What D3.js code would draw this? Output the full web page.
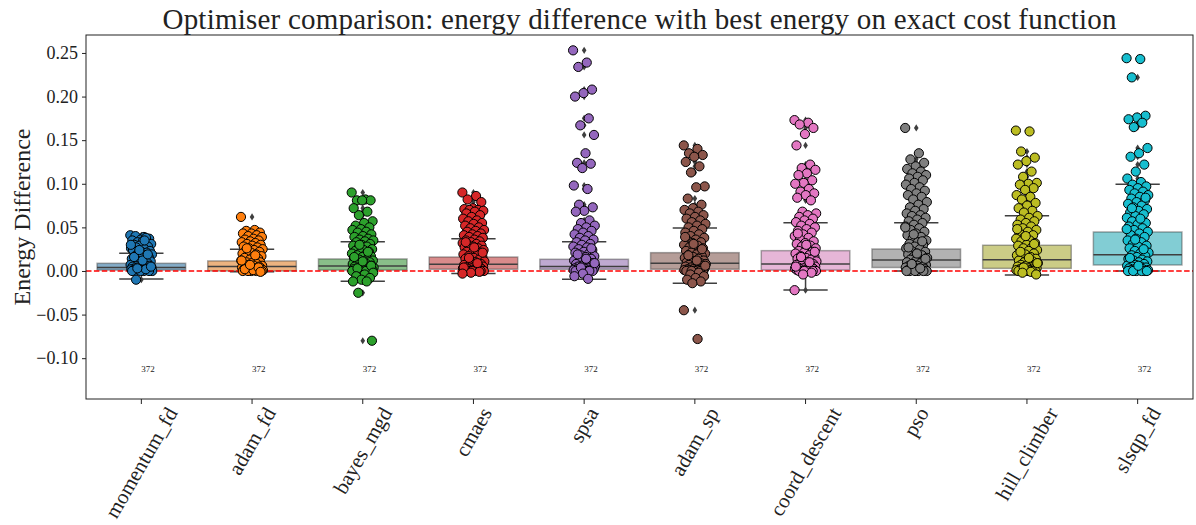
<!DOCTYPE html>
<html>
<head>
<meta charset="utf-8">
<script src="https://cdn.jsdelivr.net/npm/d3@7"></script>
<style>
  body { margin: 0; background: #fff; }
  text { font-family: "Liberation Serif", "DejaVu Serif", serif; fill: #222; }
</style>
</head>
<body>
<script>
var categories = ["momentum_fd", "adam_fd", "bayes_mgd", "cmaes", "spsa",
  "adam_sp", "coord_descent", "pso", "hill_climber", "slsqp_fd"];
var palette = ["#1f77b4", "#ff7f0e", "#2ca02c", "#d62728", "#9467bd",
  "#8c564b", "#e377c2", "#7f7f7f", "#bcbd22", "#17becf"];
var counts = [372, 372, 372, 372, 372, 372, 372, 372, 372, 372];

// box stats
var q1 =      [0.001, 0.000, 0.001, 0.002, 0.002, 0.002, 0.001, 0.004, 0.003, 0.0069];
var median =  [0.004, 0.005, 0.0057, 0.0077, 0.005, 0.0088, 0.008, 0.0126, 0.013, 0.0187];
var q3 =      [0.0088, 0.0115, 0.0138, 0.016, 0.0134, 0.021, 0.0233, 0.0252, 0.0295, 0.0447];
var whiskLo = [-0.0092, -0.001, -0.0118, -0.003, -0.0095, -0.0141, -0.0218, 0.0, -0.0046, 0.0];
var whiskHi = [0.0203, 0.0249, 0.0336, 0.037, 0.0336, 0.0493, 0.0554, 0.0554, 0.0634, 0.0994];

var yTicks = [-0.10, -0.05, 0.00, 0.05, 0.10, 0.15, 0.20, 0.25];

// strip points (visible values, estimated)
var ptsMomentum = [0.041,0.039,0.040,0.037,0.036,0.035,0.038,0.033,0.031,0.034,0.030,0.028,0.029,0.026,0.025,0.027,0.023,0.022,0.024,0.021,0.020,0.019,0.018,0.017,0.016,0.015,0.014,0.013,0.012,0.011,0.010,0.009,0.009,0.008,0.007,0.007,0.006,0.006,0.005,0.005,0.004,0.004,0.004,0.003,0.003,0.003,0.002,0.002,0.002,0.002,0.001,0.001,0.001,0.001,0.001,0.000,0.000,0.000,0.000,0.000,0.000,0.002,0.003,0.005,0.012,0.016,0.019,0.024,0.030,0.035,-0.010];
var ptsAdamFd = [0.062,0.047,0.046,0.044,0.043,0.043,0.041,0.040,0.039,0.037,0.036,0.035,0.034,0.033,0.032,0.031,0.030,0.029,0.028,0.027,0.026,0.025,0.024,0.023,0.022,0.021,0.020,0.019,0.018,0.017,0.016,0.015,0.014,0.013,0.012,0.011,0.010,0.010,0.009,0.008,0.008,0.007,0.006,0.006,0.005,0.005,0.004,0.004,0.003,0.003,0.003,0.002,0.002,0.002,0.001,0.001,0.001,0.001,0.000,0.000,0.000,0.000,0.000,0.000,0.001,0.002,0.004,0.007,0.012,0.018,0.026,-0.001];
var ptsBayes = [0.090,0.082,0.081,0.081,0.081,0.072,0.068,0.064,0.057,0.055,0.052,0.050,0.048,0.047,0.045,0.044,0.042,0.040,0.039,0.037,0.036,0.035,0.034,0.033,0.031,0.030,0.029,0.028,0.026,0.025,0.024,0.023,0.022,0.021,0.020,0.019,0.018,0.017,0.016,0.015,0.014,0.013,0.012,0.011,0.010,0.010,0.009,0.008,0.008,0.007,0.006,0.006,0.005,0.005,0.004,0.004,0.003,0.003,0.003,0.002,0.002,0.002,0.001,0.001,0.001,0.000,0.000,0.000,0.000,0.000,0.003,0.006,0.011,0.016,0.022,0.030,-0.002,-0.004,-0.006,-0.008,-0.010,-0.012,-0.012,-0.025,-0.080];
var ptsCmaes = [0.090,0.086,0.082,0.079,0.072,0.071,0.070,0.070,0.069,0.068,0.066,0.064,0.062,0.060,0.058,0.057,0.055,0.054,0.052,0.050,0.049,0.047,0.046,0.045,0.043,0.042,0.041,0.040,0.039,0.038,0.036,0.035,0.034,0.033,0.032,0.031,0.030,0.029,0.028,0.027,0.026,0.025,0.024,0.023,0.022,0.021,0.020,0.019,0.018,0.017,0.016,0.015,0.014,0.013,0.012,0.011,0.010,0.009,0.008,0.008,0.007,0.006,0.006,0.005,0.005,0.004,0.004,0.003,0.003,0.002,0.002,0.002,0.001,0.001,0.001,0.000,0.000,0.000,0.000,0.000,0.000,0.004,0.009,0.015,0.021,0.027,0.033,-0.001,-0.002,-0.003];
var ptsSpsa = [0.253,0.239,0.234,0.208,0.204,0.200,0.175,0.167,0.156,0.135,0.124,0.123,0.118,0.098,0.094,0.076,0.073,0.069,0.068,0.058,0.055,0.052,0.050,0.048,0.046,0.044,0.042,0.040,0.038,0.036,0.035,0.033,0.031,0.030,0.028,0.027,0.025,0.024,0.022,0.021,0.020,0.018,0.017,0.016,0.015,0.014,0.013,0.012,0.011,0.010,0.009,0.008,0.008,0.007,0.006,0.006,0.005,0.005,0.004,0.004,0.003,0.003,0.003,0.002,0.002,0.002,0.001,0.001,0.001,0.000,0.000,0.000,0.000,0.000,0.000,0.004,0.009,0.014,0.019,0.026,-0.003,-0.006,-0.009];
var ptsAdamSp = [0.144,0.140,0.135,0.133,0.131,0.125,0.120,0.113,0.097,0.096,0.083,0.076,0.072,0.070,0.068,0.066,0.064,0.062,0.060,0.058,0.056,0.054,0.052,0.050,0.048,0.046,0.044,0.042,0.040,0.038,0.036,0.035,0.033,0.032,0.030,0.029,0.027,0.026,0.024,0.023,0.022,0.021,0.020,0.019,0.018,0.017,0.016,0.015,0.014,0.013,0.012,0.011,0.010,0.009,0.009,0.008,0.007,0.007,0.006,0.005,0.005,0.004,0.004,0.003,0.003,0.002,0.002,0.002,0.001,0.001,0.001,0.000,0.000,0.000,0.000,0.000,0.006,0.012,0.018,0.025,0.031,0.039,-0.002,-0.004,-0.006,-0.008,-0.010,-0.012,-0.014,-0.045,-0.078];
var ptsCoord = [0.173,0.170,0.168,0.164,0.157,0.144,0.122,0.118,0.116,0.112,0.110,0.104,0.101,0.100,0.094,0.091,0.089,0.087,0.084,0.081,0.068,0.066,0.064,0.062,0.060,0.058,0.056,0.054,0.052,0.050,0.048,0.046,0.044,0.042,0.040,0.038,0.036,0.034,0.032,0.031,0.029,0.028,0.026,0.025,0.023,0.022,0.021,0.020,0.018,0.017,0.016,0.015,0.014,0.013,0.012,0.011,0.010,0.009,0.008,0.008,0.007,0.006,0.006,0.005,0.005,0.004,0.004,0.003,0.003,0.002,0.002,0.002,0.001,0.001,0.001,0.000,0.000,0.000,0.000,0.000,0.000,0.005,0.010,0.016,0.022,0.030,0.043,-0.002,-0.004,-0.022];
var ptsPso = [0.164,0.135,0.128,0.124,0.120,0.117,0.114,0.112,0.110,0.108,0.106,0.104,0.101,0.099,0.096,0.094,0.092,0.089,0.087,0.085,0.082,0.079,0.076,0.073,0.071,0.069,0.066,0.064,0.063,0.061,0.059,0.057,0.055,0.053,0.051,0.049,0.047,0.045,0.043,0.041,0.039,0.037,0.035,0.033,0.031,0.030,0.028,0.026,0.025,0.023,0.022,0.020,0.019,0.018,0.016,0.015,0.014,0.013,0.012,0.011,0.010,0.009,0.008,0.007,0.006,0.006,0.005,0.004,0.004,0.003,0.003,0.002,0.002,0.001,0.001,0.001,0.000,0.000,0.000,0.000,0.000,0.000,0.003,0.008,0.014,0.020,0.027,0.034,0.042,0.050];
var ptsHill = [0.161,0.160,0.137,0.130,0.126,0.122,0.114,0.108,0.101,0.100,0.099,0.095,0.093,0.087,0.085,0.082,0.078,0.075,0.072,0.069,0.067,0.063,0.061,0.059,0.057,0.055,0.053,0.051,0.049,0.047,0.045,0.043,0.041,0.039,0.037,0.035,0.034,0.032,0.030,0.029,0.027,0.026,0.024,0.023,0.021,0.020,0.019,0.018,0.016,0.015,0.014,0.013,0.012,0.011,0.010,0.009,0.008,0.007,0.006,0.006,0.005,0.004,0.004,0.003,0.003,0.002,0.002,0.001,0.001,0.001,0.000,0.000,0.000,0.000,0.000,0.004,0.009,0.015,0.022,0.031,0.040,0.048,-0.001,-0.002,-0.004];
var ptsSlsqp = [0.244,0.243,0.222,0.178,0.176,0.174,0.170,0.165,0.141,0.135,0.131,0.122,0.114,0.106,0.102,0.099,0.097,0.095,0.093,0.091,0.089,0.087,0.085,0.083,0.081,0.079,0.077,0.075,0.073,0.071,0.069,0.067,0.065,0.063,0.061,0.059,0.057,0.055,0.053,0.051,0.049,0.047,0.045,0.043,0.041,0.039,0.037,0.035,0.033,0.031,0.029,0.028,0.026,0.024,0.023,0.021,0.020,0.018,0.017,0.016,0.014,0.013,0.012,0.011,0.010,0.009,0.008,0.007,0.006,0.005,0.005,0.004,0.003,0.003,0.002,0.002,0.001,0.001,0.001,0.000,0.000,0.000,0.000,0.000,0.000,0.006,0.015,0.025,0.036,0.048,0.060,0.072,0.084];

var points = [ptsMomentum, ptsAdamFd, ptsBayes, ptsCmaes, ptsSpsa,
  ptsAdamSp, ptsCoord, ptsPso, ptsHill, ptsSlsqp];

var W = 1196, H = 525;
var m = {left: 86, right: 3, top: 35, bottom: 126};

var svg = d3.select("body").append("svg")
  .attr("width", W)
  .attr("height", H);

var x = d3.scaleBand()
  .domain(categories)
  .range([m.left, W - m.right])
  .paddingInner(0).paddingOuter(0);

var y = d3.scaleLinear()
  .domain([-0.1468, 0.2706])
  .range([H - m.bottom, m.top]);

var bw = x.bandwidth();
var boxW = bw * 0.8;
var capW = boxW * 0.5;
var jit = bw * 0.1;

function boxFill(c) {
  var h = d3.hsl(c);
  h.s = h.s * 0.75;
  return h.formatHex();
}

// boxes
var g = svg.append("g");
categories.forEach(function(cat, i) {
  var cx = x(cat) + bw / 2;
  var gb = g.append("g");
  gb.append("rect")
    .attr("x", cx - boxW / 2)
    .attr("y", y(q3[i]))
    .attr("width", boxW)
    .attr("height", y(q1[i]) - y(q3[i]))
    .attr("fill", boxFill(palette[i]))
    .attr("fill-opacity", 0.6)
    .attr("stroke", "#3f3f3f")
    .attr("stroke-opacity", 0.45)
    .attr("stroke-width", 1.5);
  // whiskers
  gb.append("line")
    .attr("x1", cx).attr("x2", cx)
    .attr("y1", y(q3[i])).attr("y2", y(whiskHi[i]))
    .attr("stroke", "#3f3f3f").attr("stroke-width", 1.5);
  gb.append("line")
    .attr("x1", cx).attr("x2", cx)
    .attr("y1", y(q1[i])).attr("y2", y(whiskLo[i]))
    .attr("stroke", "#3f3f3f").attr("stroke-width", 1.5);
  [whiskHi[i], whiskLo[i]].forEach(function(v) {
    gb.append("line")
      .attr("x1", cx - capW / 2).attr("x2", cx + capW / 2)
      .attr("y1", y(v)).attr("y2", y(v))
      .attr("stroke", "#3f3f3f").attr("stroke-width", 1.5);
  });
  gb.append("line")
    .attr("x1", cx - boxW / 2).attr("x2", cx + boxW / 2)
    .attr("y1", y(median[i])).attr("y2", y(median[i]))
    .attr("stroke", "#3f3f3f").attr("stroke-width", 1.5);

  // fliers
  var fl = points[i].filter(function(v) { return v > whiskHi[i] || v < whiskLo[i]; });
  gb.selectAll("path.flier")
    .data(fl)
    .enter()
    .append("path")
    .attr("class", "flier")
    .attr("d", "M0,-3.6L2.3,0L0,3.6L-2.3,0Z")
    .attr("transform", function(d) { return "translate(" + cx + "," + y(d) + ")"; })
    .attr("fill", "#3f3f3f");
});

// zero line
svg.append("line")
  .attr("x1", m.left).attr("x2", W - m.right)
  .attr("y1", y(0)).attr("y2", y(0))
  .attr("stroke", "red")
  .attr("stroke-width", 1.5)
  .attr("stroke-dasharray", "5.5,2.4");

// strip points
categories.forEach(function(cat, i) {
  var cx = x(cat) + bw / 2;
  svg.append("g").selectAll("circle")
    .data(points[i])
    .enter()
    .append("circle")
    .attr("cx", function(d, k) { return cx + (((k * 0.618034) % 1) * 2 - 1) * jit; })
    .attr("cy", function(d) { return y(d); })
    .attr("r", 4.6)
    .attr("fill", palette[i])
    .attr("stroke", "#000")
    .attr("stroke-width", 1);
});

// counts (left-aligned at the tick)
svg.append("g").selectAll("text")
  .data(categories)
  .enter()
  .append("text")
  .attr("x", function(d) { return x(d) + bw / 2; })
  .attr("y", y(-0.1125))
  .attr("dominant-baseline", "central")
  .attr("text-anchor", "start")
  .attr("font-size", 9)
  .text(function(d, i) { return counts[i]; });

// frame
svg.append("rect")
  .attr("x", m.left).attr("y", m.top)
  .attr("width", W - m.right - m.left)
  .attr("height", H - m.bottom - m.top)
  .attr("fill", "none")
  .attr("stroke", "#222")
  .attr("stroke-width", 1);

// y axis
var yAxis = svg.append("g")
  .attr("transform", "translate(" + m.left + ",0)")
  .call(d3.axisLeft(y).tickValues(yTicks).tickSize(4).tickPadding(4)
    .tickFormat(function(d) { return d3.format(".2f")(d).replace("-", "\u2212"); }));
yAxis.select(".domain").remove();
yAxis.selectAll("line").attr("stroke", "#222");
yAxis.selectAll("text")
  .attr("font-size", 18)
  .attr("font-family", "Liberation Serif")
  .attr("fill", "#222");

// x axis
var xAxis = svg.append("g")
  .attr("transform", "translate(0," + (H - m.bottom) + ")")
  .call(d3.axisBottom(x).tickSize(5).tickFormat(""));
xAxis.select(".domain").remove();
xAxis.selectAll("line").attr("stroke", "#222");

var fsx = 21;
svg.append("g").selectAll("text")
  .data(categories)
  .enter()
  .append("text")
  .attr("font-size", fsx)
  .attr("text-anchor", "middle")
  .attr("dominant-baseline", "central")
  .text(function(d) { return d; })
  .each(function(d) {
    var L = this.getComputedTextLength();
    var a = Math.PI / 3;
    var cy = (H - m.bottom) + 5 + (L / 2) * Math.sin(a) + (fsx * 0.5) * Math.cos(a);
    d3.select(this).attr("transform",
      "translate(" + (x(d) + bw / 2) + "," + cy + ") rotate(-60)");
  });

// y label
svg.append("text")
  .attr("transform", "translate(22," + ((m.top + H - m.bottom) / 2) + ") rotate(-90)")
  .attr("text-anchor", "middle")
  .attr("dominant-baseline", "central")
  .attr("font-size", 24)
  .text("Energy Difference");

// title
svg.append("text")
  .attr("x", (m.left + W - m.right) / 2)
  .attr("y", 29)
  .attr("text-anchor", "middle")
  .attr("font-size", 29)
  .attr("textLength", 954)
  .attr("lengthAdjust", "spacing")
  .text("Optimiser comparison: energy difference with best energy on exact cost function");
</script>
</body>
</html>
